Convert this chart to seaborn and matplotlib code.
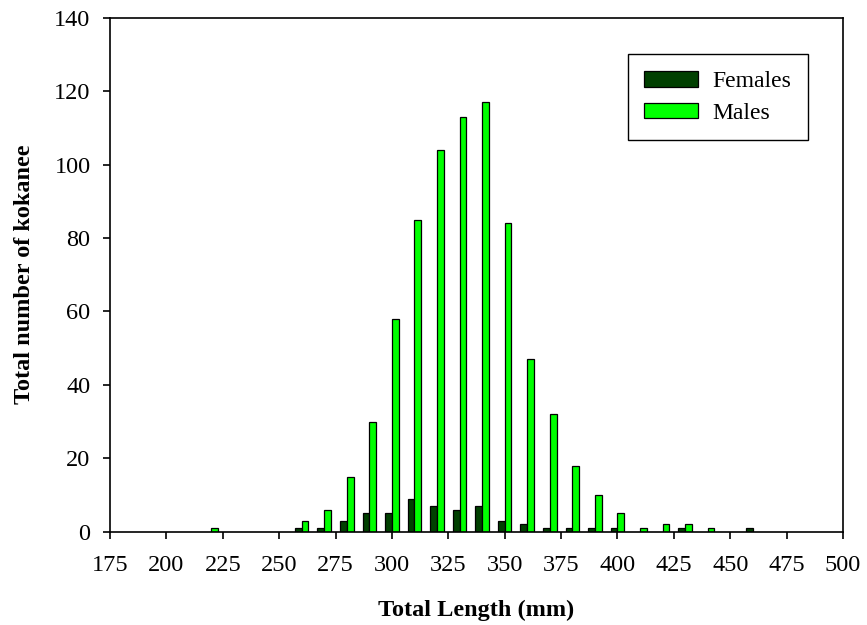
import pandas as pd
import numpy as np
import matplotlib
matplotlib.use('Agg')
import matplotlib.pyplot as plt
import seaborn as sns

# total length bins (mm) and counts
male_lengths = [220, 260, 270, 280, 290, 300, 310, 320, 330, 340, 350,
                360, 370, 380, 390, 400, 410, 420, 430, 440]
male_counts = [1, 3, 6, 15, 30, 58, 85, 104, 113, 117, 84,
               47, 32, 18, 10, 5, 1, 2, 2, 1]

female_lengths = [260, 270, 280, 290, 300, 310, 320, 330, 340, 350,
                  360, 370, 380, 390, 400, 430, 460]
female_counts = [1, 1, 3, 5, 5, 9, 7, 6, 7, 3, 2, 1, 1, 1, 1, 1, 1]

x_ticks = list(range(175, 501, 25))
y_ticks = list(range(0, 141, 20))

df = pd.concat([
    pd.DataFrame({'length': female_lengths, 'count': female_counts, 'sex': 'Females'}),
    pd.DataFrame({'length': male_lengths, 'count': male_counts, 'sex': 'Males'}),
], ignore_index=True)

sns.set_theme(style='ticks')
plt.rcParams['font.family'] = ['Liberation Serif', 'DejaVu Serif']
plt.rcParams['text.color'] = 'black'
plt.rcParams['axes.labelcolor'] = 'black'

fig = plt.figure(figsize=(8.67, 6.25), dpi=100)
ax = fig.add_axes([110 / 867, 1 - 531.7 / 625, (843 - 110) / 867, (531.7 - 17.7) / 625])

sns.barplot(data=df, x='length', y='count', hue='sex', native_scale=True,
            hue_order=['Females', 'Males'],
            palette={'Females': '#004000', 'Males': '#00ff00'}, saturation=1,
            width=0.6, edgecolor='black', linewidth=0.9, errorbar=None, ax=ax)

ax.set_xlim(175, 500)
ax.set_ylim(0, 140)
ax.set_xticks(x_ticks)
ax.set_yticks(y_ticks)
ax.tick_params(axis='both', direction='out', length=5, width=1.2,
               labelsize=17.5, colors='black')
ax.tick_params(axis='x', pad=12)
ax.tick_params(axis='y', pad=9)
for s in ax.spines.values():
    s.set_visible(True)
    s.set_color('black')
    s.set_linewidth(1.2)

ax.set_xlabel('Total Length (mm)', fontsize=17.5, fontweight='bold', labelpad=17)
ax.set_ylabel('Total number of kokanee', fontsize=17.5, fontweight='bold', labelpad=14)

leg = ax.legend(loc='upper right', bbox_to_anchor=(808 / 867, 1 - 54.3 / 625),
                bbox_transform=fig.transFigure, borderaxespad=0,
                fontsize=17, frameon=True, fancybox=False, framealpha=1,
                edgecolor='black', handlelength=2.3, handleheight=0.65,
                handletextpad=0.6, borderpad=0.7, labelspacing=0.45)
leg.get_frame().set_linewidth(1.0)

fig.savefig('out.png', dpi=100)
